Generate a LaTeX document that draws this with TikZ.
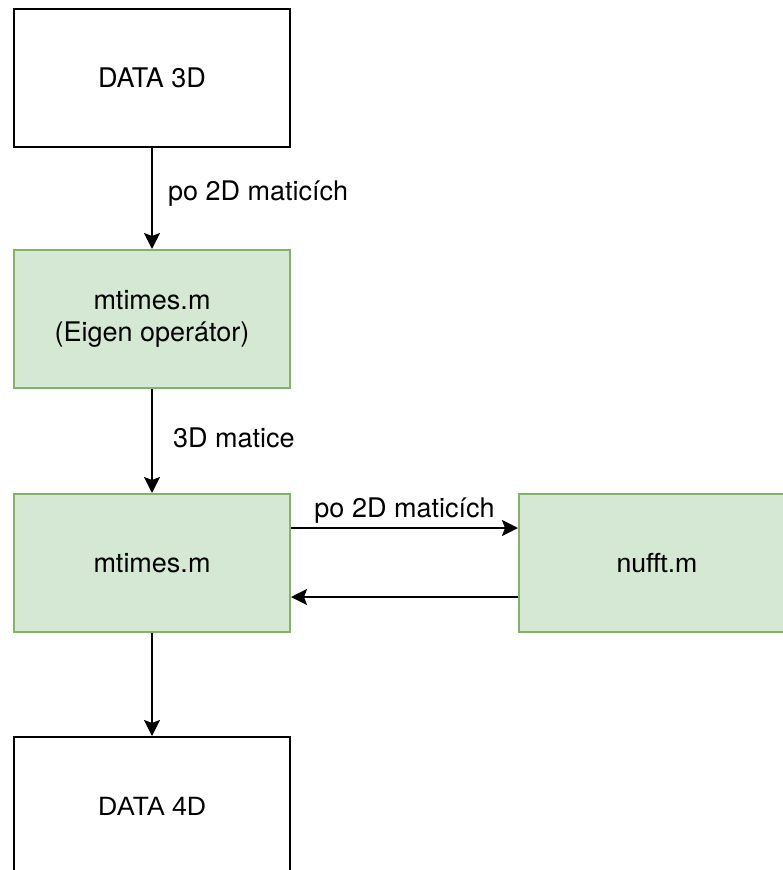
\documentclass[tikz,border=0pt]{standalone}
\usepackage{fontspec}
\setmainfont{TeX Gyre Heros}
\newfontfamily\altsans{Liberation Sans}
\usetikzlibrary{arrows.meta}
\definecolor{gfill}{HTML}{D5E8D4}
\definecolor{gline}{HTML}{82B366}
\tikzset{
  box/.style={rectangle, draw=black, line width=2pt, fill=white,
    minimum width=276pt, minimum height=138pt, inner sep=0pt,
    align=center, font=\fontsize{27}{32}\selectfont},
  gbox/.style={box, draw=gline, fill=gfill},
  arr/.style={line width=2pt, -{Stealth[length=16pt, width=16pt, inset=3pt]}},
  lbl/.style={inner sep=0pt, font=\fontsize{27}{32}\selectfont}
}
\begin{document}
\begin{tikzpicture}[x=1pt, y=-1pt]
  \useasboundingbox (0,0) rectangle (783,870);
  \clip (0,0) rectangle (783,870);
  % boxes
  \node[box]  (d3)  at (152,78)  {DATA 3D};
  \node[gbox] (eig) at (152,319) {mtimes.m\\(Eigen operátor)};
  \node[gbox] (mt)  at (152,563) {mtimes.m};
  \node[gbox, font=\altsans\fontsize{26.5}{32}\selectfont] (nf) at (657,563) {nufft.m};
  \node[box, font=\altsans\fontsize{26.5}{32}\selectfont]  (d4)  at (152,806) {DATA 4D};
  % connectors
  \draw[arr] (d3) -- node[lbl, pos=0.5, anchor=base west, xshift=15pt, yshift=-1.5pt] {po 2D maticích} (eig);
  \draw[arr] (eig) -- node[lbl, pos=0.5, anchor=base west, xshift=20pt, yshift=-6pt] {3D matice} (mt);
  \draw[arr] ([yshift=35pt]mt.east) -- node[lbl, pos=0.5, anchor=base, yshift=11pt] {po 2D maticích} ([yshift=35pt]nf.west);
  \draw[arr] ([yshift=-34pt]nf.west) -- ([yshift=-34pt]mt.east);
  \draw[arr] (mt) -- (d4);
\end{tikzpicture}
\end{document}
